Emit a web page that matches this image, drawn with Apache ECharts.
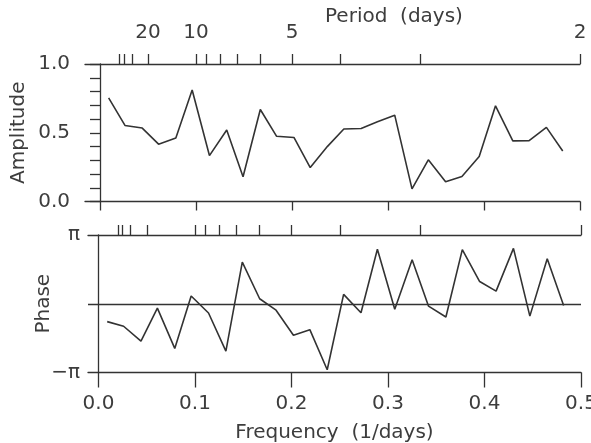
<!DOCTYPE html>
<html><head><meta charset="utf-8">
<script src="https://cdn.jsdelivr.net/npm/echarts@6/dist/echarts.min.js"></script>
<style>html,body{margin:0;padding:0;background:#fff}#c{width:591px;height:443px}</style>
</head><body><div id="c"></div>
<script>
// Frequencies (1/days) of the plotted points
const frequency = [0.009, 0.026, 0.044, 0.061, 0.079, 0.096, 0.114, 0.132, 0.149, 0.167,
                   0.184, 0.202, 0.219, 0.237, 0.254, 0.272, 0.289, 0.307, 0.325, 0.342,
                   0.360, 0.377, 0.395, 0.412, 0.430, 0.447, 0.465, 0.482];
// Amplitude at each frequency
const amplitude = [0.753, 0.553, 0.534, 0.417, 0.462, 0.811, 0.334, 0.52, 0.18, 0.669,
                   0.474, 0.466, 0.247, 0.401, 0.527, 0.531, 0.58, 0.628, 0.092, 0.303,
                   0.144, 0.182, 0.327, 0.696, 0.441, 0.442, 0.539, 0.367];
// Phase at each frequency, in units of pi
const phaseOverPi = [-0.26, -0.327, -0.545, -0.064, -0.65, 0.112, -0.134, -0.69, 0.606, 0.073,
                     -0.094, -0.457, -0.377, -0.96, 0.136, -0.13, 0.793, -0.08, 0.641, -0.035,
                     -0.193, 0.787, 0.323, 0.184, 0.806, -0.18, 0.656, -0.025];
// Tick values / labels
const freqTicks = [0, 0.1, 0.2, 0.3, 0.4, 0.5];
const periodTicks = [50, 40, 30, 20, 10, 9, 8, 7, 6, 5, 4, 3, 2];
const periodLabelTicks = [20, 10, 5, 2];
const ampLabelTicks = [0, 0.5, 1.0];
const phaseLabelTicks = [-1, 1];

const FONT = 'DejaVu Sans';
const TXT = '#3d3d3d';
const LINE = '#333';
const axLine = {lineStyle: {color: LINE, width: 1.3}};
const txt = {fontFamily: FONT, fontSize: 20, color: TXT};

const chart = echarts.init(document.getElementById('c'), null, {renderer: 'canvas'});
chart.setOption({
  animation: false,
  backgroundColor: '#fff',
  title: {
    text: 'Period  (days)', left: 325, top: 7, padding: 0,
    textStyle: {fontFamily: FONT, fontSize: 20, fontWeight: 'normal', color: TXT}
  },
  grid: [
    {left: 85, top: 64, width: 495, height: 137.5, outerBoundsMode: 'none'},
    {left: 88, top: 235, width: 493, height: 137.5, outerBoundsMode: 'none'}
  ],
  xAxis: [
    { gridIndex: 0, type: 'value', position: 'bottom', min: -0.015625, max: 0.5,
      axisLine: Object.assign({onZero: false}, axLine),
      axisTick: {customValues: freqTicks, length: 9, lineStyle: {color: LINE, width: 1.3}},
      axisLabel: {show: false}, splitLine: {show: false} },
    { gridIndex: 0, type: 'value', position: 'top', min: -0.015625, max: 0.5,
      axisLine: Object.assign({onZero: false}, axLine),
      axisTick: {customValues: periodTicks.map(p => 1 / p), length: 10, lineStyle: {color: LINE, width: 1.3}},
      axisLabel: Object.assign({customValues: periodLabelTicks.map(p => 1 / p),
        formatter: v => String(Math.round(1 / v)), margin: 21}, txt),
      splitLine: {show: false} },
    { gridIndex: 1, type: 'value', position: 'bottom', min: -0.0109, max: 0.5,
      axisLine: Object.assign({onZero: false}, axLine),
      axisTick: {customValues: freqTicks, length: 15, lineStyle: {color: LINE, width: 1.3}},
      axisLabel: Object.assign({customValues: freqTicks, formatter: v => v.toFixed(1), margin: 21}, txt),
      splitLine: {show: false},
      name: 'Frequency  (1/days)', nameLocation: 'middle', nameGap: 50, nameTextStyle: txt,
      nameMoveOverlap: false },
    { gridIndex: 1, type: 'value', position: 'top', min: -0.0109, max: 0.5,
      axisLine: Object.assign({onZero: false}, axLine),
      axisTick: {customValues: periodTicks.map(p => 1 / p), length: 10, lineStyle: {color: LINE, width: 1.3}},
      axisLabel: {show: false}, splitLine: {show: false} }
  ],
  yAxis: [
    { gridIndex: 0, type: 'value', min: 0, max: 1, interval: 0.1,
      axisLine: Object.assign({onZero: true}, axLine),
      axisTick: {show: true, length: 10, lineStyle: {color: LINE, width: 1.3}},
      axisLabel: Object.assign({customValues: ampLabelTicks, formatter: v => v.toFixed(1), margin: 15}, txt),
      splitLine: {show: false},
      name: 'Amplitude', nameLocation: 'middle', nameGap: 56, nameTextStyle: txt,
      nameMoveOverlap: false },
    { gridIndex: 1, type: 'value', min: -Math.PI, max: Math.PI,
      axisLine: Object.assign({onZero: true}, axLine),
      axisTick: {show: false},
      axisLabel: Object.assign({customValues: phaseLabelTicks.map(k => k * Math.PI),
        formatter: v => (v < 0 ? '\u2212\u03c0' : '\u03c0'), margin: 8}, txt),
      splitLine: {show: false},
      name: 'Phase', nameLocation: 'middle', nameGap: 34, nameTextStyle: txt,
      nameMoveOverlap: false }
  ],
  series: [
    { type: 'line', xAxisIndex: 0, yAxisIndex: 0, showSymbol: false, symbol: 'none',
      data: frequency.map((f, i) => [f, amplitude[i]]),
      lineStyle: {color: LINE, width: 1.6} },
    { type: 'line', xAxisIndex: 2, yAxisIndex: 1, showSymbol: false, symbol: 'none',
      data: frequency.map((f, i) => [f, phaseOverPi[i] * Math.PI]),
      lineStyle: {color: LINE, width: 1.6},
      markLine: { silent: true, symbol: 'none', label: {show: false},
        lineStyle: {color: LINE, width: 1.3, type: 'solid'},
        data: [{yAxis: 0}] } }
  ]
});
</script>
</body></html>
